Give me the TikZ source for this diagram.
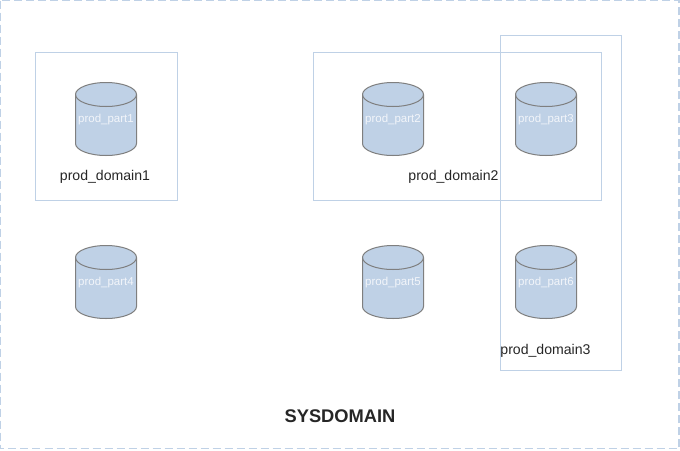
\documentclass[tikz,border=0pt]{standalone}
\usepackage{fontspec}
\setmainfont{Liberation Sans}
\definecolor{paleblue}{HTML}{BFD1E6}
\definecolor{cylline}{HTML}{7F7F7F}
\definecolor{parttext}{HTML}{F2F5FA}
\definecolor{darktext}{HTML}{262626}
\tikzset{
  domainbox/.style={draw=paleblue,line width=1pt,fill=none},
  outerbox/.style={draw=paleblue,line width=1.2pt,dash pattern=on 8pt off 4pt},
  cylbody/.style={draw=cylline,fill=paleblue,line width=1pt},
  partlabel/.style={text=parttext,font=\fontsize{11.5}{13}\selectfont,inner sep=0pt},
  domainlabel/.style={text=darktext,font=\fontsize{14.1}{16}\selectfont,inner sep=0pt},
  titlelabel/.style={text=darktext,font=\bfseries\fontsize{18.3}{21}\selectfont,inner sep=0pt}
}
% #1 left x, #2 top y, #3 node name, #4 text
\newcommand{\dbcyl}[4]{%
  \path[cylbody] (#1,#2+12) arc[start angle=180,end angle=0,x radius=30.5,y radius=-12]
    -- (#1+61,#2+61) arc[start angle=0,end angle=-180,x radius=30.5,y radius=-12] -- cycle;
  \path[draw=cylline,line width=1pt] (#1,#2+12) arc[start angle=180,end angle=0,x radius=30.5,y radius=12];
  \node[partlabel] (#3) at (#1+30.5,#2+37.5) {#4};
}
\begin{document}
\begin{tikzpicture}[x=1pt,y=-1pt]
\useasboundingbox (0,0) rectangle (680,450);
\fill[white] (0,0) rectangle (680,450);
\draw[outerbox] (0.5,0.5) rectangle (679,448.5);
\node[domainbox,minimum width=142pt,minimum height=148pt,inner sep=0pt] (d1) at (106.5,126.5) {};
\node[domainbox,minimum width=288pt,minimum height=148pt,inner sep=0pt] (d2) at (457.5,126.5) {};
\node[domainbox,minimum width=121pt,minimum height=335pt,inner sep=0pt] (d3) at (561,203) {};
\dbcyl{75.5}{82.5}{p1}{prod\_part1}
\dbcyl{362.5}{82.5}{p2}{prod\_part2}
\dbcyl{515.5}{82.5}{p3}{prod\_part3}
\dbcyl{75.5}{245.5}{p4}{prod\_part4}
\dbcyl{362.5}{245.5}{p5}{prod\_part5}
\dbcyl{515.5}{245.5}{p6}{prod\_part6}
\node[domainlabel] (l1) at (105,176.5) {prod\_domain1};
\node[domainlabel] (l2) at (453.5,176.5) {prod\_domain2};
\node[domainlabel] (l3) at (545.5,350.5) {prod\_domain3};
\node[titlelabel] (t) at (340,416) {SYSDOMAIN};
\end{tikzpicture}
\end{document}
